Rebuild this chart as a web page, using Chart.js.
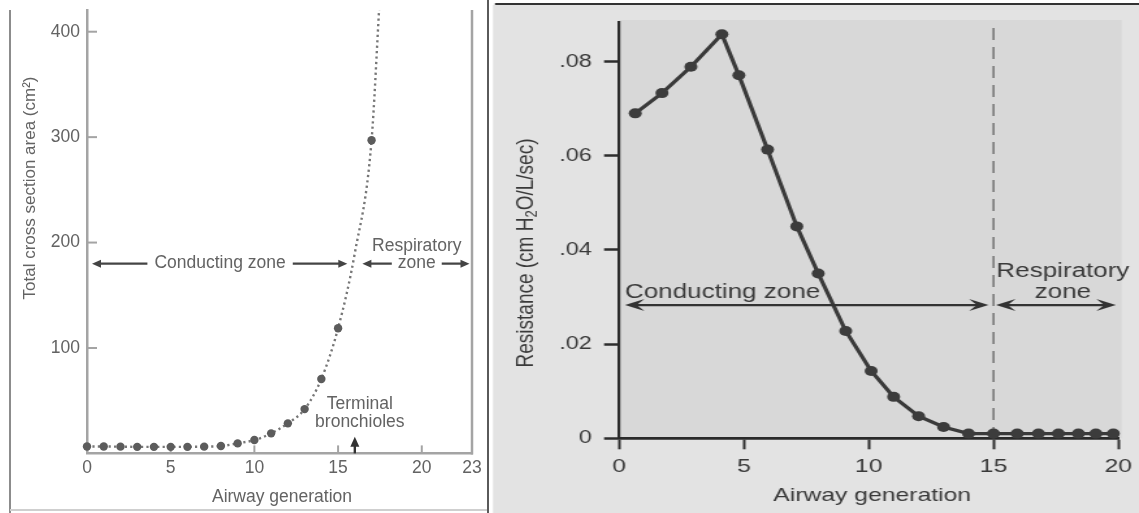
<!DOCTYPE html>
<html><head><meta charset="utf-8">
<script src="https://cdn.jsdelivr.net/npm/chart.js@4.4.1/dist/chart.umd.min.js"></script>
<style>
html,body{margin:0;padding:0;background:#fff;overflow:hidden}
#wrap{position:relative;width:1139px;height:513px}
#left{position:absolute;left:0;top:0}
#rightBox{position:absolute;left:490px;top:0;width:499px;height:513px;transform:scaleX(1.3006);transform-origin:0 0}
#right{position:absolute;left:0;top:0}
</style></head><body>
<div id="wrap">
<canvas id="left" width="490" height="513"></canvas>
<div id="rightBox"><canvas id="right" width="499" height="513"></canvas></div>
</div>
<script>
// ---- Left panel data: total cross-section area vs airway generation ----
const areaGen = [0,1,2,3,4,5,6,7,8,9,10,11,12,13,14,15,16,17,17.45];
const areaVal = [6.5,6.5,6.4,6.2,6.2,6.2,6.2,6.4,7,9.5,12.7,19,28.5,42,70.6,118.7,190,297,421];
const areaMarked = [1,1,1,1,1,1,1,1,1,1,1,1,1,1,1,1,0,1,0];
const areaXTicks = [0,5,10,15,20,23];
const areaYTicks = [100,200,300,400];

// ---- Right panel data: airway resistance vs airway generation ----
const resGen = [0.65,1.72,2.88,4.12,4.8,5.95,7.12,7.98,9.08,10.1,11.0,12.0,13.0,14.0,15.0,15.95,16.8,17.6,18.4,19.1,19.8];
const resVal = [0.0690,0.0733,0.0789,0.0858,0.0771,0.0613,0.0450,0.0350,0.0228,0.0143,0.0088,0.0047,0.0024,0.0010,0.0010,0.0010,0.0010,0.0010,0.0010,0.0010,0.0010];
const resXTicks = [0,5,10,15,20];
const resYTicks = [0,0.02,0.04,0.06,0.08];
const resYLabels = ['0','.02','.04','.06','.08'];

const FONT = "'Liberation Sans', Arial, Helvetica, sans-serif";

// ---- annotation settings (data units) ----
const leftNotes = {
  zoneY: 180,
  conducting: {from: 0.3, to: 15.55, text: 'Conducting zone', x: 7.95, base: 175.6},
  respiratory: {from: 16.45, to: 22.85, lines: ['Respiratory', 'zone'], x: 19.7, bases: [191.9, 175.8]},
  terminal: {x: 16, tip: 15.8, lines: ['Terminal', 'bronchioles'], tx: 16.3, bases: [42, 25.4]}
};
const rightNotes = {
  zoneY: 0.0283,
  conducting: {from: 0.24, to: 14.8, text: 'Conducting zone', x: 0.24, base: 0.0298},
  respiratory: {from: 15.1, to: 19.9, lines: ['Respiratory', 'zone'], x: 17.78, bases: [0.0342, 0.0297]},
  divider: {x: 15, top: 0.0871}
};

function head(ctx, x, y, dir, len, half, notch) {
  ctx.beginPath();
  ctx.moveTo(x, y);
  ctx.lineTo(x - dir * len, y - half);
  ctx.lineTo(x - dir * notch, y);
  ctx.lineTo(x - dir * len, y + half);
  ctx.closePath();
  ctx.fill();
}
function rotatedPieces(ctx, cx, cy, pieces, color) {
  ctx.save();
  ctx.translate(cx, cy);
  ctx.rotate(-Math.PI / 2);
  ctx.fillStyle = color;
  ctx.textBaseline = 'middle';
  ctx.textAlign = 'left';
  let total = 0;
  pieces.forEach(p => { ctx.font = p.size + 'px ' + FONT; p.w = ctx.measureText(p.t).width; total += p.w; });
  let x = -total / 2;
  pieces.forEach(p => { ctx.font = p.size + 'px ' + FONT; ctx.fillText(p.t, x, p.dy || 0); x += p.w; });
  ctx.restore();
}

// ================= LEFT CHART =================
const leftGray = '#a4a4a4';
const leftText = '#636363';
const leftDecor = {
  id: 'leftDecor',
  beforeDraw(chart) {
    const c = chart.ctx;
    c.save();
    c.fillStyle = '#fff';
    c.fillRect(0, 0, chart.width, chart.height);
    c.lineWidth = 2;
    c.strokeStyle = '#8c8c8c';
    c.beginPath(); c.moveTo(10, 10); c.lineTo(10, 513); c.stroke();
    c.strokeStyle = '#cfcfcf';
    c.beginPath(); c.moveTo(10, 510); c.lineTo(487, 510); c.stroke();
    c.strokeStyle = '#5a5a5a';
    c.beginPath(); c.moveTo(488, 0); c.lineTo(488, 513); c.stroke();
    c.restore();
  },
  beforeDatasetsDraw(chart) {
    const c = chart.ctx, a = chart.chartArea, xs = chart.scales.x, ys = chart.scales.y;
    c.save();
    c.strokeStyle = leftGray;
    c.lineWidth = 2.5;
    c.beginPath(); c.moveTo(a.right, a.top); c.lineTo(a.right, a.bottom + 1.2); c.stroke();
    c.lineWidth = 2;
    areaYTicks.forEach(v => {
      const y = ys.getPixelForValue(v);
      c.beginPath(); c.moveTo(a.left, y); c.lineTo(a.left + 10, y); c.stroke();
    });
    areaXTicks.forEach(v => {
      if (v === xs.min || v === xs.max) return;
      const x = xs.getPixelForValue(v);
      c.beginPath(); c.moveTo(x, a.bottom); c.lineTo(x, a.bottom - 8); c.stroke();
    });
    c.restore();
  },
  afterDraw(chart) {
    const c = chart.ctx, a = chart.chartArea, xs = chart.scales.x, ys = chart.scales.y;
    const n = leftNotes;
    c.save();
    c.strokeStyle = '#444'; c.fillStyle = '#444'; c.lineWidth = 2.2;
    const yz = ys.getPixelForValue(n.zoneY);
    [n.conducting, n.respiratory].forEach(s => {
      const x0 = xs.getPixelForValue(s.from), x1 = xs.getPixelForValue(s.to);
      c.beginPath(); c.moveTo(x0 + 4, yz); c.lineTo(x1 - 4, yz); c.stroke();
      head(c, x0, yz, -1, 9, 4, 9);
      head(c, x1, yz, 1, 9, 4, 9);
    });
    c.font = '17.5px ' + FONT;
    c.textAlign = 'center'; c.textBaseline = 'alphabetic';
    const tx = xs.getPixelForValue(n.conducting.x);
    let w = c.measureText(n.conducting.text).width;
    c.fillStyle = '#fff'; c.fillRect(tx - w / 2 - 7, yz - 5, w + 14, 10);
    c.fillStyle = leftText; c.fillText(n.conducting.text, tx, ys.getPixelForValue(n.conducting.base));
    const rx = xs.getPixelForValue(n.respiratory.x);
    w = c.measureText(n.respiratory.lines[1]).width;
    c.fillStyle = '#fff'; c.fillRect(rx - w / 2 - 6, yz - 5, w + 12, 10);
    c.fillStyle = leftText;
    n.respiratory.lines.forEach((t, i) => c.fillText(t, rx, ys.getPixelForValue(n.respiratory.bases[i])));
    const trx = xs.getPixelForValue(n.terminal.tx);
    n.terminal.lines.forEach((t, i) => c.fillText(t, trx, ys.getPixelForValue(n.terminal.bases[i])));
    const ax = xs.getPixelForValue(n.terminal.x), ay = ys.getPixelForValue(n.terminal.tip);
    c.strokeStyle = '#333'; c.fillStyle = '#333'; c.lineWidth = 2.4;
    c.beginPath(); c.moveTo(ax, a.bottom); c.lineTo(ax, ay + 5); c.stroke();
    c.beginPath(); c.moveTo(ax, ay); c.lineTo(ax - 4.5, ay + 10); c.lineTo(ax + 4.5, ay + 10); c.closePath(); c.fill();
    c.fillStyle = leftText;
    c.textBaseline = 'middle';
    c.fillText('Airway generation', 282, 497);
    rotatedPieces(c, 30, 188, [{t: 'Total cross section area (cm²)', size: 17}], leftText);
    c.restore();
  }
};

new Chart(document.getElementById('left'), {
  type: 'scatter',
  data: {
    datasets: [{
      data: areaGen.map((g, i) => ({x: g, y: areaVal[i]})),
      showLine: true,
      borderColor: '#777',
      borderWidth: 2.4,
      borderDash: [2.2, 3.2],
      cubicInterpolationMode: 'monotone',
      pointRadius: areaMarked.map(m => m ? 4.2 : 0),
      pointBackgroundColor: '#5c5c5c',
      pointBorderWidth: 0,
      clip: {left: 8, right: 8, bottom: 8, top: 0}
    }]
  },
  options: {
    responsive: false, animation: false, devicePixelRatio: 1,
    layout: {padding: {left: 0, right: 18, top: 10, bottom: 0}},
    plugins: {legend: {display: false}, tooltip: {enabled: false}},
    scales: {
      x: {
        type: 'linear', min: 0, max: 23,
        afterBuildTicks: s => { s.ticks = areaXTicks.map(v => ({value: v})); },
        afterFit: s => { s.height = 59.6; s.paddingLeft = 0; s.paddingRight = 0; },
        grid: {display: false, drawTicks: false},
        border: {display: true, color: leftGray, width: 2.5},
        ticks: {font: {family: FONT, size: 17.5}, color: leftText, padding: 4.5, maxRotation: 0, autoSkip: false, callback: v => String(v)}
      },
      y: {
        type: 'linear', min: 0, max: 420.6,
        afterBuildTicks: s => { s.ticks = areaYTicks.map(v => ({value: v})); },
        afterFit: s => { s.width = 87; s.paddingTop = 0; s.paddingBottom = 0; },
        grid: {display: false, drawTicks: false},
        border: {display: true, color: leftGray, width: 2.5},
        ticks: {font: {family: FONT, size: 17.5}, color: leftText, padding: 7, autoSkip: false, callback: v => String(v)}
      }
    }
  },
  plugins: [leftDecor]
});

// ================= RIGHT CHART (drawn narrow, stretched by CSS) =================
const rightDecor = {
  id: 'rightDecor',
  beforeDraw(chart) {
    const c = chart.ctx, a = chart.chartArea;
    c.save();
    c.fillStyle = '#fff';
    c.fillRect(0, 0, chart.width, chart.height);
    c.fillStyle = '#e3e3e3';
    c.fillRect(2.3, 5, chart.width, chart.height);
    c.fillStyle = '#d8d8d8';
    c.fillRect(a.left, a.top - 2, a.right - a.left + 2.5, a.bottom - a.top + 2);
    c.strokeStyle = '#333';
    c.lineWidth = 2;
    c.beginPath(); c.moveTo(3.8, 4); c.lineTo(chart.width, 4); c.stroke();
    c.restore();
  },
  beforeDatasetsDraw(chart) {
    const c = chart.ctx, xs = chart.scales.x, ys = chart.scales.y, d = rightNotes.divider;
    c.save();
    c.strokeStyle = '#787878'; c.lineWidth = 1.6; c.setLineDash([12, 7]);
    const x = xs.getPixelForValue(d.x);
    c.beginPath(); c.moveTo(x, ys.getPixelForValue(d.top)); c.lineTo(x, ys.getPixelForValue(0)); c.stroke();
    c.restore();
  },
  afterDraw(chart) {
    const c = chart.ctx, a = chart.chartArea, xs = chart.scales.x, ys = chart.scales.y, n = rightNotes;
    c.save();
    c.strokeStyle = '#333'; c.fillStyle = '#333'; c.lineWidth = 2.2;
    const yz = ys.getPixelForValue(n.zoneY);
    [n.conducting, n.respiratory].forEach(s => {
      const x0 = xs.getPixelForValue(s.from), x1 = xs.getPixelForValue(s.to);
      c.beginPath(); c.moveTo(x0 + 6, yz); c.lineTo(x1 - 6, yz); c.stroke();
      head(c, x0, yz, -1, 15, 6, 9);
      head(c, x1, yz, 1, 15, 6, 9);
    });
    c.font = '20px ' + FONT;
    c.fillStyle = '#3a3a3a';
    c.textBaseline = 'alphabetic';
    c.textAlign = 'left';
    c.fillText(n.conducting.text, xs.getPixelForValue(n.conducting.x), ys.getPixelForValue(n.conducting.base));
    c.textAlign = 'center';
    const rx = xs.getPixelForValue(n.respiratory.x);
    n.respiratory.lines.forEach((t, i) => c.fillText(t, rx, ys.getPixelForValue(n.respiratory.bases[i])));
    c.font = '19px ' + FONT;
    c.textBaseline = 'middle';
    c.fillText('Airway generation', (a.left + a.right) / 2 + 2.7, 496);
    rotatedPieces(c, 27.7, 253, [
      {t: 'Resistance (cm H', size: 19},
      {t: '2', size: 13, dy: 5},
      {t: 'O/L/sec)', size: 19}
    ], '#3a3a3a');
    c.restore();
  }
};

new Chart(document.getElementById('right'), {
  type: 'scatter',
  data: {
    datasets: [{
      data: resGen.map((g, i) => ({x: g, y: resVal[i]})),
      showLine: true,
      borderColor: '#3a3a3a',
      borderWidth: 3.2,
      tension: 0,
      pointRadius: 5,
      pointBackgroundColor: '#3c3c3c',
      pointBorderWidth: 0,
      clip: false
    }]
  },
  options: {
    responsive: false, animation: false, devicePixelRatio: 1,
    layout: {padding: {left: 0, right: 15.9, top: 22, bottom: 14.7}},
    plugins: {legend: {display: false}, tooltip: {enabled: false}},
    scales: {
      x: {
        type: 'linear', min: 0, max: 20,
        afterBuildTicks: s => { s.ticks = resXTicks.map(v => ({value: v})); },
        afterFit: s => { s.height = 60; s.paddingLeft = 0; s.paddingRight = 0; },
        grid: {display: true, drawOnChartArea: false, drawTicks: true, tickLength: 11, tickColor: '#2e2e2e', tickWidth: 2, color: '#2e2e2e'},
        border: {display: true, color: '#2a2a2a', width: 2.7},
        ticks: {font: {family: FONT, size: 19}, color: '#3a3a3a', padding: 6.3, maxRotation: 0, autoSkip: false, callback: v => String(v)}
      },
      y: {
        type: 'linear', min: 0, max: 0.0884,
        afterBuildTicks: s => { s.ticks = resYTicks.map(v => ({value: v})); },
        afterFit: s => { s.width = 99.2; s.paddingTop = 0; s.paddingBottom = 0; },
        grid: {display: true, drawOnChartArea: false, drawTicks: true, tickLength: 11.5, tickColor: '#2e2e2e', tickWidth: 2.5, color: '#2e2e2e'},
        border: {display: true, color: '#2a2a2a', width: 2.2},
        ticks: {font: {family: FONT, size: 18}, color: '#3a3a3a', padding: 9.5, autoSkip: false,
          callback: v => { const i = resYTicks.findIndex(t => Math.abs(t - v) < 1e-9); return i >= 0 ? resYLabels[i] : ''; }}
      }
    }
  },
  plugins: [rightDecor]
});
</script>
</body></html>
